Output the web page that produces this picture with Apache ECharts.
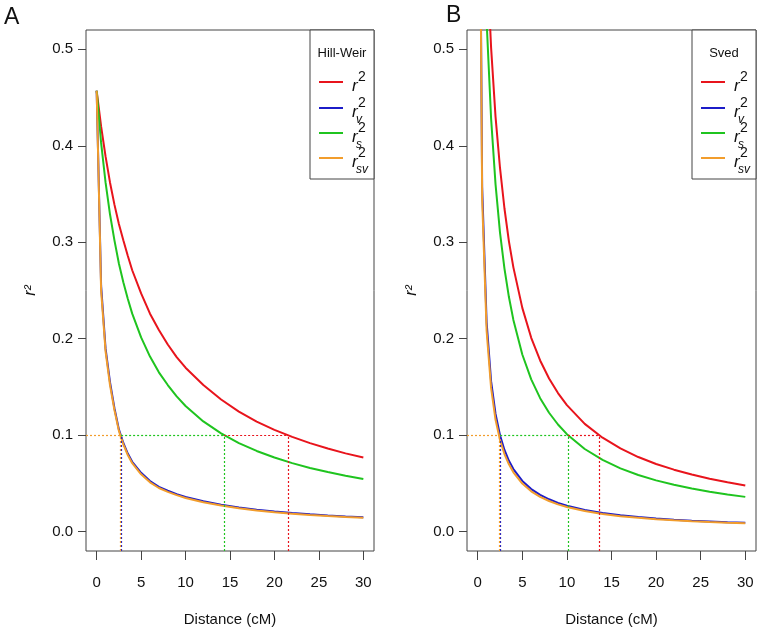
<!DOCTYPE html>
<html>
<head>
<meta charset="utf-8">
<script src="https://cdn.jsdelivr.net/npm/echarts@6/dist/echarts.min.js"></script>
<style>
  html, body { margin: 0; padding: 0; background: #fff; }
  #chart { width: 760px; height: 636px; }
</style>
</head>
<body>
<div id="chart"></div>
<script>
// distance in cM
const distance = [0, 0.5, 1, 1.5, 2, 2.5, 3, 3.5, 4, 5, 6, 7, 8, 9, 10, 12, 14, 16, 18, 20, 22, 24, 26, 28, 30];

// panel A - Hill-Weir
const hwR2 = [0.457, 0.420, 0.389, 0.362, 0.339, 0.319, 0.302, 0.286, 0.271, 0.247, 0.226, 0.209, 0.194, 0.181, 0.170, 0.152, 0.137, 0.1245, 0.114, 0.1056, 0.0983, 0.0918, 0.0862, 0.0812, 0.0769];
const hwV = [0.457, 0.255, 0.190, 0.155, 0.128, 0.106, 0.092, 0.081, 0.0725, 0.061, 0.0525, 0.0465, 0.0425, 0.039, 0.036, 0.0315, 0.028, 0.025, 0.0228, 0.021, 0.0193, 0.018, 0.0168, 0.0158, 0.015];
const hwS = [0.457, 0.403, 0.362, 0.329, 0.302, 0.278, 0.2586, 0.2414, 0.226, 0.2014, 0.1815, 0.1652, 0.152, 0.1402, 0.1303, 0.1143, 0.1019, 0.0918, 0.0837, 0.0769, 0.0711, 0.0661, 0.0618, 0.058, 0.0547];
const hwSV = [0.457, 0.250, 0.187, 0.152, 0.126, 0.1045, 0.0905, 0.0795, 0.071, 0.0595, 0.0512, 0.0453, 0.0413, 0.0379, 0.035, 0.0305, 0.0271, 0.0242, 0.022, 0.0202, 0.0186, 0.0173, 0.0162, 0.0152, 0.0144];

// panel B - Sved
const svR2 = [1.0, 0.751, 0.602, 0.502, 0.430, 0.377, 0.335, 0.301, 0.274, 0.232, 0.201, 0.1775, 0.1588, 0.1437, 0.1312, 0.1118, 0.0974, 0.0863, 0.0774, 0.0702, 0.0643, 0.0592, 0.0549, 0.0512, 0.0479];
const svV = [1.0, 0.357, 0.217, 0.156, 0.122, 0.100, 0.0847, 0.0735, 0.0649, 0.0526, 0.0442, 0.0382, 0.0336, 0.0299, 0.027, 0.0226, 0.0195, 0.0171, 0.0152, 0.0137, 0.0125, 0.0114, 0.0106, 0.0098, 0.0092];
const svS = [1.0, 0.692, 0.529, 0.4285, 0.360, 0.310, 0.2727, 0.2432, 0.2195, 0.1837, 0.1579, 0.1384, 0.1233, 0.1111, 0.1011, 0.0857, 0.0744, 0.0657, 0.0588, 0.0532, 0.0486, 0.0448, 0.0415, 0.0386, 0.0361];
const svSV = [1.0, 0.344, 0.208, 0.149, 0.116, 0.095, 0.0805, 0.0698, 0.0616, 0.0499, 0.0419, 0.0361, 0.0318, 0.0283, 0.0256, 0.0214, 0.0184, 0.0161, 0.0144, 0.013, 0.0118, 0.0108, 0.01, 0.0093, 0.0087];

// distance where each curve reaches r2 = 0.1 (r2, v, s, sv)
const crossHW = [21.5, 2.75, 14.34, 2.7];
const crossSved = [13.6, 2.52, 10.12, 2.36];

const xTicks = [0, 5, 10, 15, 20, 25, 30];
const yTicks = [0, 0.1, 0.2, 0.3, 0.4, 0.5];
const subs = ['', 'v', 's', 'sv'];
const colors = ['#e8141c', '#1c1cc8', '#1fc41f', '#f29d2c'];

const FONT = 'Liberation Sans, Arial, sans-serif';
const X_MIN = -1.2, X_MAX = 31.2, Y_MIN = -0.02, Y_MAX = 0.52;

// horizontal guide at 0.1: each line only drawn where it is not hidden by a later one
function hStart(idx, cross) {
    if (idx === 3) return X_MIN;                    // sv, drawn last
    if (idx === 1) return null;                     // v, hidden under sv
    if (idx === 2) return Math.max(cross[1], cross[3]);
    return cross[2];                                // r2
}

function mkSeries(name, vals, idx, g, cross) {
    const lines = [[{ coord: [cross[idx], Y_MIN] }, { coord: [cross[idx], 0.1] }]];
    const s = hStart(idx, cross);
    if (s !== null) lines.push([{ coord: [s, 0.1] }, { coord: [cross[idx], 0.1] }]);
    return {
        name: name,
        type: 'line',
        xAxisIndex: g,
        yAxisIndex: g,
        data: distance.map((d, i) => [d, vals[i]]),
        symbol: 'none',
        clip: true,
        lineStyle: { color: colors[idx], width: 2 },
        markLine: {
            silent: true,
            symbol: ['none', 'none'],
            label: { show: false },
            lineStyle: { color: colors[idx], type: [2, 2], width: 1.2, opacity: 1 },
            data: lines
        }
    };
}

function mkX(g) {
    return {
        gridIndex: g, type: 'value', min: X_MIN, max: X_MAX,
        axisLine: { show: false, onZero: false },
        splitLine: { show: false },
        axisTick: { show: true, length: 9, customValues: xTicks, lineStyle: { color: '#444' } },
        axisLabel: { customValues: xTicks, margin: 24, fontSize: 15, color: '#111', fontFamily: FONT },
        name: 'Distance (cM)', nameLocation: 'middle', nameGap: 61,
        nameTextStyle: { fontSize: 15, color: '#111', fontFamily: FONT }
    };
}

function mkY(g) {
    return {
        gridIndex: g, type: 'value', min: Y_MIN, max: Y_MAX,
        axisLine: { show: false, onZero: false },
        splitLine: { show: false },
        axisTick: { show: true, length: 8, customValues: yTicks, lineStyle: { color: '#444' } },
        axisLabel: { customValues: yTicks, margin: 13, fontSize: 15, color: '#111', fontFamily: FONT,
            formatter: v => v.toFixed(1) },
        name: 'r²', nameLocation: 'middle', nameGap: 47, nameRotate: 90,
        nameTextStyle: { fontSize: 16, fontStyle: 'italic', color: '#111', fontFamily: FONT }
    };
}

// legend box drawn by hand (stacked sub/superscripts)
function legendBox(left, title) {
    const els = [{
        type: 'rect', z: 100,
        shape: { x: left, y: 30, width: 64, height: 149 },
        style: { fill: '#fff', stroke: '#444', lineWidth: 1 }
    }, {
        type: 'text', z: 101, x: left + 32, y: 53,
        style: { text: title, fill: '#111', font: '13px ' + FONT, align: 'center', verticalAlign: 'middle' }
    }];
    [82, 108, 133, 158].forEach((yy, i) => {
        els.push({ type: 'line', z: 101, shape: { x1: left + 9, y1: yy, x2: left + 33, y2: yy },
            style: { stroke: colors[i], lineWidth: 2 } });
        els.push({ type: 'text', z: 101, x: left + 42, y: yy + 4,
            style: { text: 'r', fill: '#111', font: 'italic 17px ' + FONT, verticalAlign: 'middle' } });
        els.push({ type: 'text', z: 101, x: left + 48, y: yy - 5,
            style: { text: '2', fill: '#111', font: '14px ' + FONT, verticalAlign: 'middle' } });
        if (subs[i]) {
            els.push({ type: 'text', z: 101, x: left + 46, y: yy + 12,
                style: { text: subs[i], fill: '#111', font: 'italic 12px ' + FONT, verticalAlign: 'middle' } });
        }
    });
    return els;
}

const chart = echarts.init(document.getElementById('chart'), null, { renderer: 'canvas' });

const option = {
    animation: false,
    backgroundColor: '#fff',
    grid: [
        { left: 86, top: 30, width: 288, height: 521, show: true, borderColor: '#444', borderWidth: 1 },
        { left: 467, top: 30, width: 289, height: 521, show: true, borderColor: '#444', borderWidth: 1 }
    ],
    xAxis: [mkX(0), mkX(1)],
    yAxis: [mkY(0), mkY(1)],
    series: [
        mkSeries('r2', hwR2, 0, 0, crossHW),
        mkSeries('r2 v', hwV, 1, 0, crossHW),
        mkSeries('r2 s', hwS, 2, 0, crossHW),
        mkSeries('r2 sv', hwSV, 3, 0, crossHW),
        mkSeries('r2', svR2, 0, 1, crossSved),
        mkSeries('r2 v', svV, 1, 1, crossSved),
        mkSeries('r2 s', svS, 2, 1, crossSved),
        mkSeries('r2 sv', svSV, 3, 1, crossSved)
    ],
    graphic: [
        { type: 'text', x: 4, y: 6, style: { text: 'A', fill: '#111', font: '23px ' + FONT } },
        { type: 'text', x: 446, y: 4, style: { text: 'B', fill: '#111', font: '23px ' + FONT } }
    ].concat(legendBox(310, 'Hill-Weir'), legendBox(692, 'Sved'))
};

chart.setOption(option);
</script>
</body>
</html>
